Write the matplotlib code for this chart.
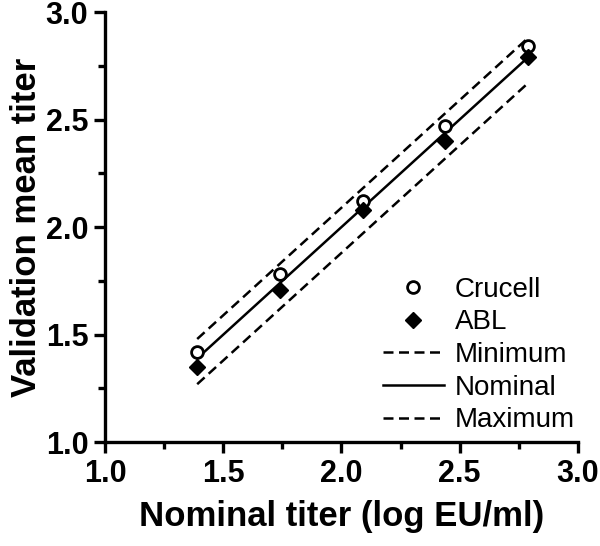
import matplotlib.pyplot as plt
from matplotlib.ticker import MultipleLocator

# valores
nominal = [1.39, 1.74, 2.09, 2.44, 2.79]
crucell = [1.42, 1.78, 2.12, 2.47, 2.84]
abl = [1.35, 1.71, 2.08, 2.40, 2.79]
minimo = [1.48, 1.83, 2.18, 2.53, 2.88]
maximo = [1.27, 1.62, 1.97, 2.32, 2.67]

ticks = [1.0, 1.5, 2.0, 2.5, 3.0]
tick_labels = ['1.0', '1.5', '2.0', '2.5', '3.0']

plt.rcParams['font.family'] = ['Liberation Sans', 'DejaVu Sans']

fig = plt.figure(figsize=(6, 5.46), dpi=100)
ax = fig.add_axes([0.175, 0.19, 0.788, 0.788])

tracejado = (0, (4, 2.2))
ax.plot(nominal, crucell, 'o', color='black', markerfacecolor='white',
        markeredgewidth=2, markersize=8.5, label='Crucell', zorder=4)
ax.plot(nominal, abl, 'D', color='black', markersize=8.5, label='ABL', zorder=4)
ax.plot(nominal, minimo, color='black', lw=1.8, linestyle=tracejado,
        label='Minimum')
ax.plot(nominal, nominal, color='black', lw=1.8, label='Nominal')
ax.plot(nominal, maximo, color='black', lw=1.8, linestyle=tracejado,
        label='Maximum')

ax.set_xlim(1.0, 3.0)
ax.set_ylim(1.0, 3.0)
ax.set_xticks(ticks)
ax.set_xticklabels(tick_labels)
ax.set_yticks(ticks)
ax.set_yticklabels(tick_labels)
ax.xaxis.set_minor_locator(MultipleLocator(0.25))
ax.yaxis.set_minor_locator(MultipleLocator(0.25))

for lado in ['top', 'right']:
    ax.spines[lado].set_visible(False)
for lado in ['left', 'bottom']:
    ax.spines[lado].set_linewidth(2.4)

ax.tick_params(which='major', direction='out', length=8, width=2.4,
               labelsize=22, pad=4)
ax.tick_params(which='minor', direction='out', length=5, width=2.4)
for rotulo in ax.get_xticklabels() + ax.get_yticklabels():
    rotulo.set_fontweight('bold')

ax.set_xlabel('Nominal titer (log EU/ml)', fontsize=25, fontweight='bold',
              labelpad=8)
ax.set_ylabel('Validation mean titer', fontsize=25, fontweight='bold',
              labelpad=2)

ax.legend(loc='upper left', bbox_to_anchor=(0.587, 0.385), frameon=False,
          fontsize=20, handlelength=2.2, handletextpad=0.4, labelspacing=0.24,
          borderaxespad=0, borderpad=0)

fig.savefig('out.png', dpi=100)
